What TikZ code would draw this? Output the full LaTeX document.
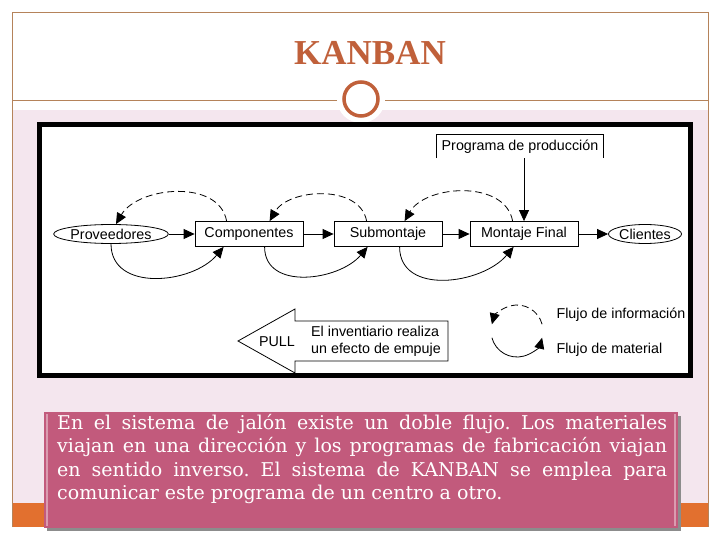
\documentclass[tikz,border=0pt]{standalone}
\usepackage{fontspec}
\setmainfont{Liberation Sans}
\newfontfamily\serifa{DejaVu Serif}
\newfontfamily\titular{Liberation Serif}
\usepackage{tikz}
\usetikzlibrary{positioning, arrows.meta, shapes.geometric}
\definecolor{marron}{HTML}{B5835A}
\definecolor{oxido}{HTML}{C0603A}
\definecolor{rosado}{HTML}{F4E6EE}
\definecolor{naranja}{HTML}{E2702F}
\definecolor{vino}{HTML}{C25A7C}
\tikzset{
	>={Triangle[length=11pt, width=10pt]}, % Puntas de flecha rellenas
	node distance=137pt, % Distancia entre centros de las etapas
	etapa/.style={draw, line width=0.8pt, minimum width=108pt, minimum height=25pt, inner sep=2pt}, % Cajas del proceso
	extremo/.style={draw, ellipse, line width=0.8pt, inner sep=0pt, minimum height=19pt}, % Proveedores y clientes
	flujo/.style={->, line width=0.8pt}, % Flechas rectas
	material/.style={->, line width=0.8pt, out=-90, in=-130, looseness=1.1}, % Flujo de material
	info/.style={->, line width=0.8pt, dash pattern=on 7pt off 4pt, out=100, in=60} % Flujo de informacion
}
\frenchspacing

\begin{document}
\begin{tikzpicture}[x=1pt, y=-1pt, font=\fontsize{14.3}{16}\selectfont]
	\useasboundingbox (0,0) rectangle (720,540);
	% fondo de la diapositiva
	\fill[white] (0,0) rectangle (720,540);
	\fill[rosado] (12,110) rectangle (708,503);
	\fill[naranja] (12,503) rectangle (708,527);
	\draw[marron, line width=0.9pt] (12,527) -- (12,12) -- (708,12) -- (708,527);
	\draw[marron, line width=0.9pt] (12,100) -- (708,100);
	\fill[white] (361,99) circle[radius=24pt];
	\draw[oxido, line width=3.5pt] (361,99) circle[radius=17pt];
	\node[font=\titular\bfseries\fontsize{35}{40}\selectfont, text=oxido, inner sep=0pt] (tit) at (370,53.5) {KANBAN};
	
	% recuadro del diagrama
	\draw[line width=5pt, fill=white] (39.5,124.5) rectangle (690.5,375.5);
	
	\node[extremo, minimum width=107pt] (prov) at (111,234) {Proveedores};
	\node[etapa, right of=prov, node distance=138pt] (comp) {Componentes};
	\node[etapa, right of=comp, node distance=139pt] (sub) {Submontaje};
	\node[etapa, right of=sub, node distance=136pt] (mont) {Montaje Final};
	\node[extremo, right of=mont, node distance=121pt, minimum width=73pt] (cli) {Clientes};
	\node[minimum width=166pt, minimum height=23pt, inner sep=0pt] (prog) at (520,146.5) {Programa de producción};
	\draw[line width=0.8pt] (prog.south west) |- (prog.north) -| (prog.south east);
	
	\draw	(prov) edge[flujo] (comp)
			(comp) edge[flujo] (sub)
			(sub) edge[flujo] (mont)
			(mont) edge[flujo] (cli)
			(prog.south -| mont.north) edge[flujo] (mont.north)
			([xshift=32pt]comp.north west) edge[info] ([xshift=5pt]prov.north)
			([xshift=33pt]sub.north west) edge[info] ([xshift=75pt]comp.north west)
			([xshift=43pt]mont.north west) edge[info] ([xshift=71pt]sub.north west)
			(prov.south) edge[material] ([xshift=29pt]comp.south west)
			([xshift=70pt]comp.south west) edge[material] ([xshift=34pt]sub.south west)
			([xshift=66pt]sub.south west) edge[material] ([xshift=44pt]mont.south west);
	
	% leyenda
	\coordinate (ley) at (517,331);
	\draw[->, line width=0.8pt, dash pattern=on 7pt off 4pt] (ley) ++(15:26pt) arc[start angle=15, end angle=165, radius=26pt];
	\draw[->, line width=0.8pt] (ley) ++(195:26pt) arc[start angle=195, end angle=345, radius=26pt];
	\node[anchor=west] (linfo) at (553,315) {Flujo de información};
	\node[anchor=west] (lmat) at (553,350) {Flujo de material};
	
	% flecha PULL
	\draw[line width=0.8pt, fill=white] (448,321) -- (295,321) -- (295,309) -- (238,341) -- (295,373) -- (295,361) -- (448,361) -- cycle;
	\node (pull) at (277,342) {PULL};
	\node[align=left, font=\fontsize{14.3}{17}\selectfont] (inv) at (376,341) {El inventiario realiza\\un efecto de empuje};
	
	% texto inferior
	\fill[black!45] (47,416) rectangle (681,531);
	\fill[vino] (44,412) rectangle (678,528);
	\draw[vino!60!white, line width=2pt] (47,414) -- (47,526) (675,414) -- (675,526);
	\node[anchor=north west, text width=610pt, align=justify, inner sep=0pt, text=white, font=\serifa\fontsize{19}{23.5}\selectfont] (txt) at (57,414) {En el sistema de jalón existe un doble flujo. Los materiales\linebreak viajan en una dirección y los programas de fabricación viajan\linebreak en sentido inverso. El sistema de KANBAN se emplea para\linebreak comunicar este programa de un centro a otro.};
\end{tikzpicture}
\end{document}
